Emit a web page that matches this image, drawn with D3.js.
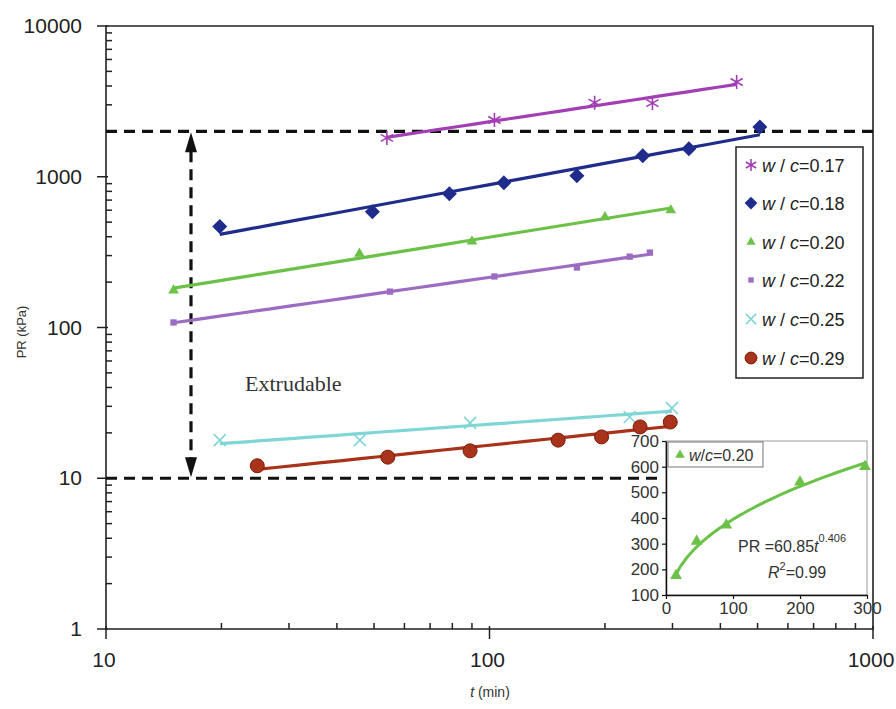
<!DOCTYPE html>
<html>
<head>
<meta charset="utf-8">
<script src="https://cdn.jsdelivr.net/npm/d3@7/dist/d3.min.js"></script>
<style>
  body { margin: 0; background: #fff; }
  svg text { font-family: "Liberation Sans", Arial, Helvetica, sans-serif; }
</style>
</head>
<body>
<div id="chart"></div>
<script>
// series data: [t (min), PR (kPa)]
var wc017 = [[54, 1810], [103, 2380], [188, 3100], [266, 3080], [441, 4250]];
var wc018 = [[19.8, 467], [49.5, 586], [78.6, 771], [109, 912], [169, 1017], [251, 1378], [331, 1532], [507, 2142]];
var wc020 = [[15, 176], [45.8, 309], [90, 372], [200, 540], [297, 600]];
var wc022 = [[15, 108], [55, 173], [103, 218], [169, 250], [232, 295], [262, 314]];
var wc025 = [[19.8, 17.9], [45.9, 17.9], [89, 23.3], [232, 25.5], [299, 29.2]];
var wc029 = [[24.8, 12.1], [54.3, 13.8], [89, 15.2], [151, 17.9], [196, 18.8], [247, 21.9], [296, 23.6]];

var seriesNames = ['0.17', '0.18', '0.20', '0.22', '0.25', '0.29'];
var seriesColors = ['#a23fb4', '#1f2c8c', '#6cc248', '#9b6cc2', '#80d6d4', '#a8321a'];
var seriesShapes = ['star', 'diamond', 'triangle', 'square', 'cross', 'circle'];
var seriesData = [wc017, wc018, wc020, wc022, wc025, wc029];

var xTickLabels = [10, 100, 1000];
var yTickLabels = [1, 10, 100, 1000, 10000];
var limitLines = [2000, 10];

// inset (w/c = 0.20, linear axes)
var insetXTicks = [0, 100, 200, 300];
var insetYTicks = [100, 200, 300, 400, 500, 600, 700];
var fitCoef = 60.85, fitExp = 0.406;

var W = 896, H = 709;
var svg = d3.select('#chart').append('svg')
    .attr('width', W)
    .attr('height', H);

var x = d3.scaleLog().domain([10, 1000]).range([106, 873]);
var y = d3.scaleLog().domain([1, 10000]).range([629, 26]);

// minor + major ticks
var g = svg.append('g').attr('stroke', '#222').attr('stroke-width', 1.5);
y.ticks().forEach(function (v) {
    var major = yTickLabels.indexOf(v) >= 0;
    g.append('line')
        .attr('x1', major ? x.range()[0] - 9 : x.range()[0])
        .attr('x2', major ? x.range()[0] + 2 : x.range()[0] + 6)
        .attr('y1', y(v)).attr('y2', y(v));
});
x.ticks().forEach(function (v) {
    var major = xTickLabels.indexOf(v) >= 0;
    g.append('line')
        .attr('x1', x(v)).attr('x2', x(v))
        .attr('y1', major ? y.range()[0] + 10 : y.range()[0])
        .attr('y2', major ? y.range()[0] - 3 : y.range()[0] - 6);
});

// frame
svg.append('path')
    .attr('d', 'M' + x.range()[0] + ',' + y.range()[0] + 'V' + y.range()[1] + 'H' + x.range()[1] + 'V' + y.range()[0] + 'Z')
    .attr('fill', 'none').attr('stroke', '#222').attr('stroke-width', 1.6);

svg.selectAll('text.ylab')
    .data(yTickLabels)
    .enter().append('text')
    .attr('class', 'ylab')
    .attr('x', 82).attr('y', function (d) { return y(d) + 7; })
    .attr('text-anchor', 'end')
    .attr('font-size', 21).attr('fill', '#222')
    .text(function (d) { return d; });

svg.selectAll('text.xlab')
    .data(xTickLabels)
    .enter().append('text')
    .attr('class', 'xlab')
    .attr('x', function (d) { return x(d) - 2; }).attr('y', 667)
    .attr('text-anchor', 'middle')
    .attr('font-size', 21).attr('fill', '#222')
    .text(function (d) { return d; });

var xt = svg.append('text').attr('x', 490).attr('y', 697).attr('text-anchor', 'middle')
    .attr('font-size', 14).attr('fill', '#333');
xt.append('tspan').attr('font-style', 'italic').text('t');
xt.append('tspan').text(' (min)');

svg.append('text')
    .attr('transform', 'translate(26,332) rotate(-90)')
    .attr('text-anchor', 'middle')
    .attr('font-size', 13).attr('fill', '#333')
    .text('PR (kPa)');

// limit lines
var dash = svg.append('g').attr('stroke', '#111').attr('stroke-width', 3.2)
    .attr('stroke-dasharray', '11,7').attr('fill', 'none');
dash.append('line')
    .attr('x1', x.range()[0]).attr('x2', x.range()[1])
    .attr('y1', y(limitLines[0])).attr('y2', y(limitLines[0]));
dash.append('line')
    .attr('x1', x.range()[0]).attr('x2', 664)
    .attr('y1', y(limitLines[1])).attr('y2', y(limitLines[1]));

var ax = 191;
dash.append('line')
    .attr('x1', ax).attr('x2', ax)
    .attr('y1', y(limitLines[0]) + 20).attr('y2', y(limitLines[1]) - 20);
svg.append('path')
    .attr('d', 'M' + ax + ',' + (y(limitLines[0]) + 1) + 'l-6,20h12z')
    .attr('fill', '#111');
svg.append('path')
    .attr('d', 'M' + ax + ',' + (y(limitLines[1]) - 1) + 'l-6,-20h12z')
    .attr('fill', '#111');

svg.append('text')
    .attr('x', 245).attr('y', 391)
    .style('font-family', '"Liberation Serif", "Times New Roman", serif')
    .attr('font-size', 22).attr('fill', '#333')
    .text('Extrudable');

// marker drawing
function marker(sel, shape, color, s) {
    s = s || 1;
    if (shape === 'star') {
        var r = 7 * s;
        sel.append('path')
            .attr('d', 'M0,' + (-r) + 'V' + r +
                'M' + (-r * 0.87) + ',' + (-r * 0.5) + 'L' + (r * 0.87) + ',' + (r * 0.5) +
                'M' + (-r * 0.87) + ',' + (r * 0.5) + 'L' + (r * 0.87) + ',' + (-r * 0.5))
            .attr('stroke', color).attr('stroke-width', 1.6).attr('fill', 'none');
    } else if (shape === 'cross') {
        var c = 6 * s;
        sel.append('path')
            .attr('d', 'M' + (-c) + ',' + (-c) + 'L' + c + ',' + c + 'M' + (-c) + ',' + c + 'L' + c + ',' + (-c))
            .attr('stroke', color).attr('stroke-width', 1.6).attr('fill', 'none');
    } else if (shape === 'circle') {
        sel.append('circle').attr('r', 7 * s)
            .attr('fill', color).attr('stroke', '#7a1c08').attr('stroke-width', 1);
    } else if (shape === 'diamond') {
        var d = 7.5 * s;
        sel.append('path')
            .attr('d', 'M0,' + (-d) + 'L' + d + ',0L0,' + d + 'L' + (-d) + ',0Z')
            .attr('fill', color);
    } else {
        var t = { triangle: d3.symbolTriangle, square: d3.symbolSquare }[shape];
        var size = { triangle: 50, square: 40 }[shape];
        sel.append('path')
            .attr('d', d3.symbol().type(t).size(size * s * s)())
            .attr('fill', color);
    }
}

// power law trend line fitted in log space
function powerFit(pts) {
    var lx = pts.map(function (p) { return Math.log(p[0]); });
    var ly = pts.map(function (p) { return Math.log(p[1]); });
    var mx = d3.mean(lx), my = d3.mean(ly);
    var b = d3.sum(lx, function (v, i) { return (v - mx) * (ly[i] - my); }) /
        d3.sum(lx, function (v) { return (v - mx) * (v - mx); });
    var a = Math.exp(my - b * mx);
    return function (t) { return a * Math.pow(t, b); };
}

var line = d3.line()
    .x(function (d) { return x(d[0]); })
    .y(function (d) { return y(d[1]); });

seriesData.forEach(function (pts, i) {
    var f = powerFit(pts);
    var t0 = pts[0][0], t1 = pts[pts.length - 1][0];
    var fitPts = d3.range(0, 21).map(function (k) {
        var t = t0 * Math.pow(t1 / t0, k / 20);
        return [t, f(t)];
    });
    svg.append('path')
        .datum(fitPts)
        .attr('d', line)
        .attr('fill', 'none')
        .attr('stroke', seriesColors[i])
        .attr('stroke-width', 3.2);
    pts.forEach(function (p) {
        var m = svg.append('g').attr('transform', 'translate(' + x(p[0]) + ',' + y(p[1]) + ')');
        marker(m, seriesShapes[i], seriesColors[i]);
    });
});

// legend
var leg = svg.append('g');
leg.append('rect')
    .attr('x', 736).attr('y', 147).attr('width', 127).attr('height', 231)
    .attr('fill', '#fff').attr('stroke', '#222').attr('stroke-width', 1.5);
var legY = [165, 203, 242, 280, 319, 358];
seriesNames.forEach(function (name, i) {
    var m = leg.append('g').attr('transform', 'translate(751,' + legY[i] + ')');
    marker(m, seriesShapes[i], seriesColors[i], 0.85);
    var t = leg.append('text').attr('x', 762).attr('y', legY[i] + 7)
        .attr('font-size', 18).attr('fill', '#222');
    t.append('tspan').attr('font-style', 'italic').text('w');
    t.append('tspan').text(' / ');
    t.append('tspan').attr('font-style', 'italic').text('c');
    t.append('tspan').text('=' + name);
});

// inset
var ix = d3.scaleLinear().domain([0, 300]).range([666, 867]);
var iy = d3.scaleLinear().domain([100, 700]).range([595, 441]);

svg.append('rect')
    .attr('x', ix.range()[0]).attr('y', iy.range()[1])
    .attr('width', ix.range()[1] - ix.range()[0])
    .attr('height', iy.range()[0] - iy.range()[1])
    .attr('fill', '#fff').attr('stroke', '#999').attr('stroke-width', 1);

var ig = svg.append('g');
ig.append('g')
    .attr('transform', 'translate(0,' + iy.range()[0] + ')')
    .call(d3.axisBottom(ix).tickValues(insetXTicks).tickSize(4).tickSizeOuter(0));
ig.append('g')
    .attr('transform', 'translate(' + ix.range()[0] + ',0)')
    .call(d3.axisLeft(iy).tickValues(insetYTicks).tickSize(4).tickSizeOuter(0));
ig.selectAll('.domain').attr('stroke', '#111').attr('stroke-width', 1.5);
ig.selectAll('.tick line').attr('stroke', '#111').attr('stroke-width', 1.2);
ig.selectAll('.tick text')
    .attr('font-size', 17)
    .attr('fill', '#333')
    .style('font-family', '"Liberation Sans", Arial, sans-serif');

var fitCurve = d3.range(0, 31).map(function (k) {
    var t = 12 + (300 - 12) * k / 30;
    return [t, fitCoef * Math.pow(t, fitExp)];
});
svg.append('path')
    .datum(fitCurve)
    .attr('d', d3.line().x(function (d) { return ix(d[0]); }).y(function (d) { return iy(d[1]); }))
    .attr('fill', 'none').attr('stroke', seriesColors[2]).attr('stroke-width', 3);

wc020.forEach(function (p) {
    var m = svg.append('g').attr('transform', 'translate(' + ix(p[0]) + ',' + iy(p[1]) + ')');
    marker(m, 'triangle', seriesColors[2], 1.1);
});

svg.append('rect')
    .attr('x', 668).attr('y', 442).attr('width', 95).attr('height', 25)
    .attr('fill', '#fff').attr('stroke', '#777').attr('stroke-width', 1);
marker(svg.append('g').attr('transform', 'translate(680,455)'), 'triangle', seriesColors[2], 0.9);
var il = svg.append('text').attr('x', 689).attr('y', 461).attr('font-size', 16).attr('fill', '#333');
il.append('tspan').attr('font-style', 'italic').text('w');
il.append('tspan').text('/');
il.append('tspan').attr('font-style', 'italic').text('c');
il.append('tspan').text('=0.20');

var eq = svg.append('text').attr('x', 738).attr('y', 552).attr('font-size', 16).attr('fill', '#333');
eq.append('tspan').text('PR =' + fitCoef);
eq.append('tspan').attr('font-style', 'italic').text('t');
eq.append('tspan').attr('font-size', 11).attr('dy', -10).text(fitExp);

var r2 = svg.append('text').attr('x', 768).attr('y', 578).attr('font-size', 16).attr('fill', '#333');
r2.append('tspan').attr('font-style', 'italic').text('R');
r2.append('tspan').attr('font-size', 11).attr('dy', -8).text('2');
r2.append('tspan').attr('dy', 8).text('=0.99');
</script>
</body>
</html>
